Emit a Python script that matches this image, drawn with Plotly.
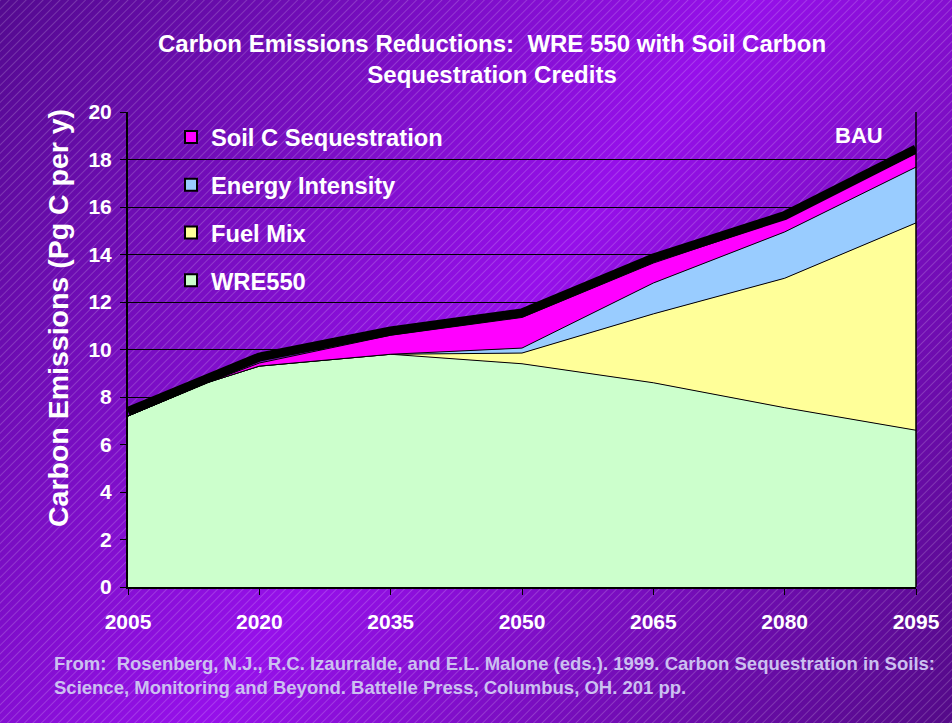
import base64
import plotly.graph_objects as go

# ---------------- data ----------------
years = [2005, 2014, 2020, 2035, 2050, 2065, 2080, 2095]
wre550 = [7.2, 8.6, 9.3, 9.8, 9.4, 8.6, 7.55, 6.6]
fuel_mix = [0, 0, 0, 0, 0.45, 2.9, 5.45, 8.73]
energy_intensity = [0, 0, 0, 0, 0.21, 1.3, 1.95, 2.35]
soil_c = [0, 0, 0.13, 0.8, 1.29, 0.84, 0.55, 0.59]
bau = [7.39, 8.78, 9.68, 10.78, 11.54, 13.85, 15.64, 18.44]

x_ticks = [2005, 2020, 2035, 2050, 2065, 2080, 2095]
y_ticks = [0, 2, 4, 6, 8, 10, 12, 14, 16, 18, 20]

series = [
    ("WRE550", wre550, "#CCFFCC"),
    ("Fuel Mix", fuel_mix, "#FFFF99"),
    ("Energy Intensity", energy_intensity, "#99CCFF"),
    ("Soil C Sequestration", soil_c, "#FF00FF"),
]

W, H = 952, 723
L, R, T, B = 128, 36, 112, 136
PW, PH = W - L - R, H - T - B

def px(xp):
    return (xp - L) / PW

def py(yp):
    return (H - B - yp) / PH

FONT = "Liberation Sans, Arial, Helvetica, sans-serif"

# ---------------- background (gradient + diagonal hatch) ----------------
svg = f'''<svg xmlns="http://www.w3.org/2000/svg" width="{W}" height="{H}" viewBox="0 0 {W} {H}" preserveAspectRatio="none">
<defs>
<linearGradient id="g" x1="0" y1="0" x2="{W}" y2="{H}" gradientUnits="userSpaceOnUse">
<stop offset="0" stop-color="#540a90"/>
<stop offset="0.5" stop-color="#9610ea"/>
<stop offset="1" stop-color="#540a88"/>
</linearGradient>
<pattern id="p" width="6" height="6" patternUnits="userSpaceOnUse" patternTransform="rotate(45)">
<line x1="0.5" y1="0" x2="0.5" y2="6" stroke="#ffffff" stroke-opacity="0.18" stroke-width="1"/>
</pattern>
</defs>
<rect width="{W}" height="{H}" fill="url(#g)"/>
<rect width="{W}" height="{H}" fill="url(#p)"/>
</svg>'''
bg_src = "data:image/svg+xml;base64," + base64.b64encode(svg.encode()).decode()

fig = go.Figure()

for name, vals, col in series:
    fig.add_trace(go.Scatter(
        x=years, y=vals, name=name, stackgroup="one", mode="lines",
        line=dict(color="black", width=1), fillcolor=col, showlegend=False,
        hoverinfo="x+y+name",
    ))

fig.add_trace(go.Scatter(
    x=years, y=bau, name="BAU", mode="lines",
    line=dict(color="black", width=9), showlegend=False,
))

# legend entries (top to bottom)
for i, (name, vals, col) in enumerate(reversed(series)):
    fig.add_trace(go.Scatter(
        x=[None], y=[None], mode="markers", name=name, legendgroup=f"g{i}",
        marker=dict(symbol="square", size=13, color=col, line=dict(color="black", width=1)),
        showlegend=True,
    ))

fig.update_layout(
    width=W, height=H,
    margin=dict(l=L, r=R, t=T, b=B, pad=0),
    paper_bgcolor="#7010b8",
    plot_bgcolor="rgba(0,0,0,0)",
    font=dict(family=FONT, color="white"),
    showlegend=True,
    legend=dict(
        x=px(171), y=py(115), xanchor="left", yanchor="top",
        bgcolor="rgba(0,0,0,0)", traceorder="grouped", tracegroupgap=14,
        font=dict(family=FONT, size=23.7, color="white", weight="bold"),
        itemsizing="constant",
    ),
    images=[dict(
        source=bg_src, xref="paper", yref="paper",
        x=-L / PW, y=1 + T / PH, sizex=W / PW, sizey=H / PH,
        xanchor="left", yanchor="top", sizing="stretch", layer="below",
    )],
    xaxis=dict(
        range=[2005, 2095], tickvals=x_ticks, ticktext=[str(v) for v in x_ticks],
        showgrid=False, zeroline=False, showline=True, linecolor="black", linewidth=2,
        ticks="outside", ticklen=6, tickcolor="black", tickwidth=1,
        tickfont=dict(family=FONT, size=21, color="white", weight="bold"),
        ticklabelstandoff=9,
    ),
    yaxis=dict(
        range=[0, 20], tickvals=y_ticks,
        showgrid=True, gridcolor="black", gridwidth=1, zeroline=False,
        showline=True, linecolor="black", linewidth=2,
        ticks="outside", ticklen=6, tickcolor="black", tickwidth=1,
        tickfont=dict(family=FONT, size=21, color="white", weight="bold"),
        ticklabelstandoff=4,
    ),
    shapes=[
        dict(type="line", xref="paper", yref="paper", x0=1, x1=1, y0=0, y1=1,
             line=dict(color="black", width=1.5), layer="above"),
    ],
    annotations=[
        dict(text="Carbon Emissions Reductions:\u00a0 WRE 550 with Soil Carbon<br>Sequestration Credits",
             xref="paper", yref="paper", x=px(492), y=py(59), xanchor="center", yanchor="middle",
             showarrow=False, font=dict(family=FONT, size=24, color="white", weight="bold")),
        dict(text="Carbon Emissions (Pg C per y)", textangle=-90,
             xref="paper", yref="paper", x=px(58), y=py(318), xanchor="center", yanchor="middle",
             showarrow=False, font=dict(family=FONT, size=28.5, color="white", weight="bold")),
        dict(text="BAU", xref="paper", yref="paper", x=px(859), y=py(136),
             xanchor="center", yanchor="middle", showarrow=False,
             font=dict(family=FONT, size=22, color="white", weight="bold")),
        dict(text="From:\u00a0 Rosenberg, N.J., R.C. Izaurralde, and E.L. Malone (eds.). 1999. Carbon Sequestration in Soils:<br>"
                  "Science, Monitoring and Beyond. Battelle Press, Columbus, OH. 201 pp.",
             xref="paper", yref="paper", x=px(52), y=py(675), xanchor="left", yanchor="middle",
             align="left", showarrow=False,
             font=dict(family=FONT, size=18.5, color="#CCC0F0", weight="bold")),
    ],
)

fig.write_html("out.html")
